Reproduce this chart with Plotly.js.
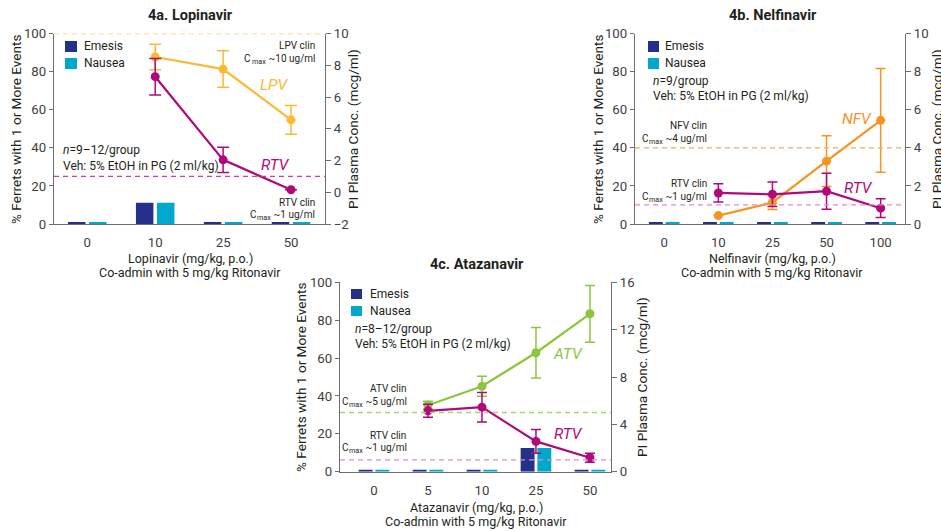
<!DOCTYPE html>
<html>
<head>
<meta charset="utf-8">
<script src="https://cdn.plot.ly/plotly-3.0.1.min.js"></script>
<style>
html,body{margin:0;padding:0;background:#fff;}
#chart{width:941px;height:531px;}
</style>
</head>
<body>
<div id="chart"></div>
<script>
// ---------- DATA ----------
// 4a Lopinavir
const catsA = ['0', '10', '25', '50'];
const emesisA = [1, 11.1, 1, 1];
const nauseaA = [1, 11.1, 1, 1];
const doseLineA = ['10', '25', '50'];
const lpvA = [8.52, 7.76, 4.56];
const lpvErrA = [0.8, 1.15, 0.9];
const rtvA_ = [7.28, 2.04, 0.16];
const rtvErrA = [1.15, 0.8, 0];
const cmaxLPV = 10;

// 4b Nelfinavir
const catsB = ['0', '10', '25', '50', '100'];
const emesisB = [1, 1, 1, 1, 1];
const nauseaB = [1, 1, 1, 1, 1];
const doseLineB = ['10', '25', '50', '100'];
const nfvB = [0.44, 1.13, 3.3, 5.44];
const nfvErrB = [0, 0.37, 1.33, 2.72];
const rtvB = [1.63, 1.56, 1.72, 0.83];
const rtvErrB = [0.48, 0.64, 0.94, 0.49];
const cmaxNFV = 4;

// 4c Atazanavir
const catsC = ['0', '5', '10', '25', '50'];
const emesisC = [1, 1, 1, 12.5, 1];
const nauseaC = [1, 1, 1, 12.5, 1];
const doseLineC = ['5', '10', '25', '50'];
const atvC = [5.62, 7.22, 10.05, 13.34];
const atvErrC = [0.33, 0.85, 2.13, 2.4];
const rtvC = [5.14, 5.45, 2.56, 1.18];
const rtvErrC = [0.55, 1.25, 1.0, 0.38];
const cmaxATV = 5;

const cmaxRTV = 1;

// ---------- STYLE ----------
const FONT = 'Roboto, "Liberation Sans", sans-serif';
const TXT = '#231f20';
const TICK = '#414042';
const AX = '#6d6e71';
const C_EM = '#24308a';
const C_NA = '#00a8cc';
const C_LPV = '#fdb933';
const C_RTV = '#b0097a';
const C_NFV = '#f7931e';
const C_ATV = '#8cc63f';

const W = 941, H = 531;
const px = v => v / W;
const py = v => 1 - v / H;

// ---------- TRACES ----------
function bars(x, em, na, xa, ya) {
  return [
    {type: 'bar', x: x, y: em, name: 'Emesis', marker: {color: C_EM}, xaxis: xa, yaxis: ya, showlegend: false, hoverinfo: 'skip'},
    {type: 'bar', x: x, y: na, name: 'Nausea', marker: {color: C_NA}, xaxis: xa, yaxis: ya, showlegend: false, hoverinfo: 'skip'}
  ];
}
function line(x, y, err, color, xa, ya, name, capw) {
  return {
    type: 'scatter', mode: 'lines+markers', x: x, y: y, name: name,
    xaxis: xa, yaxis: ya, showlegend: false,
    line: {color: color, width: 2.2},
    marker: {color: color, size: 9},
    error_y: {type: 'data', array: err, visible: true, color: color, thickness: 1.5, width: capw},
    cliponaxis: false
  };
}

const data = [
  ...bars(catsA, emesisA, nauseaA, 'x', 'y'),
  line(doseLineA, lpvA, lpvErrA, C_LPV, 'x', 'y2', 'LPV', 6),
  line(doseLineA, rtvA_, rtvErrA, C_RTV, 'x', 'y2', 'RTV', 6),
  ...bars(catsB, emesisB, nauseaB, 'x2', 'y3'),
  line(doseLineB, nfvB, nfvErrB, C_NFV, 'x2', 'y4', 'NFV', 5),
  line(doseLineB, rtvB, rtvErrB, C_RTV, 'x2', 'y4', 'RTV', 5),
  ...bars(catsC, emesisC, nauseaC, 'x3', 'y5'),
  line(doseLineC, atvC, atvErrC, C_ATV, 'x3', 'y6', 'ATV', 5),
  line(doseLineC, rtvC, rtvErrC, C_RTV, 'x3', 'y6', 'RTV', 5)
];

// ---------- AXES ----------
const tickfont = {family: FONT, size: 13.2, color: TICK};
function xax(dom, anchor, range) {
  return {domain: dom, anchor: anchor, type: 'category', range: range,
    showline: true, linecolor: AX, linewidth: 1.2, ticks: 'outside', ticklen: 6,
    tickcolor: 'rgba(0,0,0,0)', showgrid: false, zeroline: false, tickfont: tickfont, fixedrange: true};
}
function yl(dom, anchor) {
  return {domain: dom, anchor: anchor, range: [0, 100], dtick: 20, tick0: 0,
    showline: true, linecolor: AX, linewidth: 1.2, ticks: 'outside', ticklen: 4, tickcolor: AX,
    showgrid: false, zeroline: false, tickfont: tickfont, fixedrange: true};
}
function yr(over, anchor, range, dtick) {
  return {overlaying: over, anchor: anchor, side: 'right', range: range, dtick: dtick, tick0: 0,
    showline: true, linecolor: AX, linewidth: 1.2, ticks: 'outside', ticklen: 5, tickcolor: AX,
    showgrid: false, zeroline: false, tickfont: tickfont, fixedrange: true};
}

const domA = [px(54), px(325)], domAy = [py(224), py(33.5)];
const domB = [px(635), px(905)], domBy = [py(224), py(33.5)];
const domC = [px(340), px(611)], domCy = [py(471.7), py(282.3)];

// ---------- SHAPES ----------
function dash(xref, yref, v, color) {
  return {type: 'line', xref: xref, yref: yref, x0: 0, x1: 1, y0: v, y1: v,
    line: {color: color, width: 1.3, dash: '5px,4px'}, layer: 'above'};
}
function swatch(x0, y0, x1, y1, color) {
  return {type: 'rect', xref: 'paper', yref: 'paper', x0: px(x0), x1: px(x1), y0: py(y1), y1: py(y0),
    fillcolor: color, line: {width: 0}};
}
const shapes = [
  dash('x domain', 'y2', cmaxLPV, '#fdd07a'),
  dash('x domain', 'y2', cmaxRTV, '#d63a96'),
  dash('x2 domain', 'y4', cmaxNFV, '#f9a95e'),
  dash('x2 domain', 'y4', cmaxRTV, '#e58ac6'),
  dash('x3 domain', 'y6', cmaxATV, '#a9d46e'),
  dash('x3 domain', 'y6', cmaxRTV, '#e58ac6'),
  swatch(65, 41, 77, 52, C_EM), swatch(65, 58, 77, 69, C_NA),
  swatch(648, 41, 659, 52, C_EM), swatch(648, 58, 659, 69, C_NA),
  swatch(351, 289, 362, 299, C_EM), swatch(351, 306, 362, 316, C_NA)
];

// ---------- TEXT ----------
const ctx = document.createElement('canvas').getContext('2d');
function measure(text, size) {
  ctx.font = size + 'px Roboto, "Liberation Sans", sans-serif';
  return ctx.measureText(text).width;
}
function t(text, x, y, opt) {
  opt = opt || {};
  return {text: text, xref: 'paper', yref: 'paper', x: px(x), y: py(y),
    xanchor: opt.xa || 'center', yanchor: 'middle', showarrow: false, borderpad: opt.bp === undefined ? 1 : opt.bp,
    font: {family: FONT, size: opt.size || 12, color: opt.color || TXT}};
}
function rot(text, x, y, size) {
  return {text: text, xref: 'paper', yref: 'paper', x: px(x), y: py(y), xanchor: 'center', yanchor: 'middle',
    textangle: -90, showarrow: false, font: {family: FONT, size: size || 13.6, color: TXT}};
}
// "C" with subscript "max" followed by the value, right-aligned at xr
function cmaxLabel(rest, xr, y, size) {
  const sub = size * 0.72;
  const wRest = measure(rest, size);
  const wSub = measure('max', sub);
  return [
    t(rest, xr, y, {xa: 'right', size: size, bp: 0}),
    t('max', xr - wRest, y + 3.2, {xa: 'right', size: sub, bp: 0}),
    t('C', xr - wRest - wSub - 0.5, y, {xa: 'right', size: size, bp: 0})
  ];
}
const YL = '% Ferrets with 1 or More Events';
const YR = 'PI Plasma Conc. (mcg/ml)';
const CO = 'Co-admin with 5 mg/kg Ritonavir';
const VEH = 'Veh: 5% EtOH in PG (2 ml/kg)';
const S_NOTE = 12, S_CLIN = 10, S_DRUG = 15.5, S_TITLE = 14.5, S_XT = 12.5;

const annotations = [
  // 4a
  t('<b>4a. Lopinavir</b>', 190, 16, {size: S_TITLE}),
  t('Lopinavir (mg/kg, p.o.)', 190, 258, {size: S_XT}),
  t(CO, 190, 272, {size: S_XT}),
  rot(YL, 16, 129), rot(YR, 353, 129),
  t('Emesis', 82, 46, {xa: 'left', size: S_NOTE}),
  t('Nausea', 82, 63, {xa: 'left', size: S_NOTE}),
  t('<i>n</i>=9–12/group', 61, 150, {xa: 'left', size: S_NOTE}),
  t(VEH, 61, 166, {xa: 'left', size: S_NOTE}),
  t('LPV clin', 316, 45, {xa: 'right', size: S_CLIN, bp: 0}),
  ...cmaxLabel(' ~10 ug/ml', 316, 58, S_CLIN),
  t('<i>LPV</i>', 274, 85, {size: S_DRUG, color: C_LPV}),
  t('<i>RTV</i>', 275, 165, {size: S_DRUG, color: C_RTV}),
  t('RTV clin', 316, 202, {xa: 'right', size: S_CLIN, bp: 0}),
  ...cmaxLabel(' ~1 ug/ml', 316, 214.5, S_CLIN),
  // 4b
  t('<b>4b. Nelfinavir</b>', 773, 16, {size: S_TITLE}),
  t('Nelfinavir (mg/kg, p.o.)', 772, 258, {size: S_XT}),
  t(CO, 772, 272, {size: S_XT}),
  rot(YL, 598, 129), rot(YR, 937, 129),
  t('Emesis', 663, 46, {xa: 'left', size: S_NOTE}),
  t('Nausea', 663, 63, {xa: 'left', size: S_NOTE}),
  t('<i>n</i>=9/group', 651, 81, {xa: 'left', size: S_NOTE}),
  t(VEH, 651, 96, {xa: 'left', size: S_NOTE}),
  t('NFV clin', 708, 125, {xa: 'right', size: S_CLIN, bp: 0}),
  ...cmaxLabel(' ~4 ug/ml', 708, 138.5, S_CLIN),
  t('<i>NFV</i>', 857, 119, {size: S_DRUG, color: C_NFV}),
  t('<i>RTV</i>', 858, 188, {size: S_DRUG, color: C_RTV}),
  t('RTV clin', 708, 183, {xa: 'right', size: S_CLIN, bp: 0}),
  ...cmaxLabel(' ~1 ug/ml', 708, 196.5, S_CLIN),
  // 4c
  t('<b>4c. Atazanavir</b>', 477, 264, {size: S_TITLE}),
  t('Atazanavir (mg/kg, p.o.)', 476, 507, {size: S_XT}),
  t(CO, 476, 521, {size: S_XT}),
  rot(YL, 301, 377), rot(YR, 642, 377),
  t('Emesis', 368, 294, {xa: 'left', size: S_NOTE}),
  t('Nausea', 368, 311, {xa: 'left', size: S_NOTE}),
  t('<i>n</i>=8–12/group', 353, 329, {xa: 'left', size: S_NOTE}),
  t(VEH, 353, 344, {xa: 'left', size: S_NOTE}),
  t('ATV clin', 407, 388, {xa: 'right', size: S_CLIN, bp: 0}),
  ...cmaxLabel(' ~5 ug/ml', 408, 401.5, S_CLIN),
  t('<i>ATV</i>', 568, 354, {size: S_DRUG, color: C_ATV}),
  t('<i>RTV</i>', 568, 434, {size: S_DRUG, color: C_RTV}),
  t('RTV clin', 407, 435, {xa: 'right', size: S_CLIN, bp: 0}),
  ...cmaxLabel(' ~1 ug/ml', 408, 447.5, S_CLIN)
];

const layout = {
  width: W, height: H,
  margin: {l: 0, r: 0, t: 0, b: 0, pad: 0},
  paper_bgcolor: '#ffffff', plot_bgcolor: 'rgba(0,0,0,0)',
  font: {family: FONT, color: TXT},
  showlegend: false,
  barmode: 'group', bargap: 0.38, bargroupgap: 0.17,
  xaxis: xax(domA, 'y', [-0.49, 3.5]),
  yaxis: yl(domAy, 'x'),
  yaxis2: yr('y', 'x', [-2, 10], 2),
  xaxis2: xax(domB, 'y3', [-0.54, 4.45]),
  yaxis3: yl(domBy, 'x2'),
  yaxis4: yr('y3', 'x2', [0, 10], 2),
  xaxis3: xax(domC, 'y5', [-0.63, 4.39]),
  yaxis5: yl(domCy, 'x3'),
  yaxis6: yr('y5', 'x3', [0, 16], 4),
  shapes: shapes,
  annotations: annotations
};

Plotly.newPlot('chart', data, layout, {displayModeBar: false, staticPlot: true});
</script>
</body>
</html>
